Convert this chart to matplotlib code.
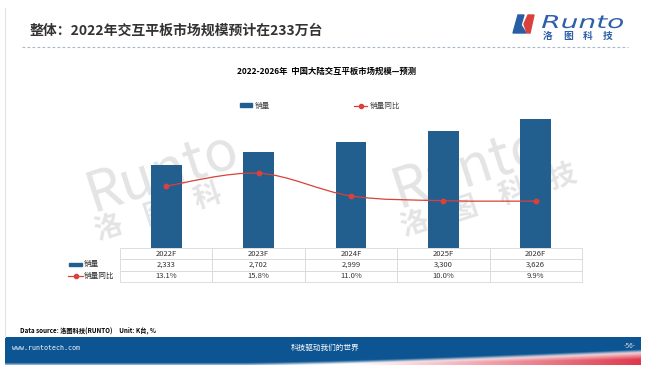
import numpy as np
import matplotlib
matplotlib.use("Agg")
import matplotlib.pyplot as plt
from matplotlib.path import Path
from matplotlib.patches import PathPatch, Rectangle, Polygon
from matplotlib.lines import Line2D
from matplotlib.textpath import TextPath
from matplotlib.font_manager import FontProperties
from matplotlib.transforms import Affine2D

plt.rcParams['font.family'] = ['Noto Sans CJK SC', 'DejaVu Sans']

# ---- data ----
years = ['2022F', '2023F', '2024F', '2025F', '2026F']
sales = [2333, 2702, 2999, 3300, 3626]          # K台
yoy = [13.1, 15.8, 11.0, 10.0, 9.9]             # %

title = '整体：2022年交互平板市场规模预计在233万台'
chart_title = '2022-2026年  中国大陆交互平板市场规模—预测'
lab_sales = '销量'
lab_yoy = '销量同比'

BLUE = '#225f8f'
RED = '#d9413a'
WM = '#e4e4e4'

W, H = 649, 377
fig = plt.figure(figsize=(W / 100, H / 100), dpi=100)


def fx(x):
    return x / W


def fy(y):
    return 1 - y / H


# ---- slide decoration ----
fig.add_artist(Line2D([fx(5), fx(5)], [fy(8), fy(337)], color='#e3e3e3', lw=0.8))
fig.text(fx(30), fy(31), title, fontsize=10, fontweight='bold', color='#333333',
         ha='left', va='center')
fig.add_artist(Line2D([fx(22), fx(628)], [fy(47), fy(47)], color='#a9b8c8', lw=0.8,
                      dashes=(2.5, 2)))

# logo icon
fig.add_artist(Polygon([(fx(513), fy(33)), (fx(518), fy(15)), (fx(524), fy(15)),
                        (fx(521), fy(25)), (fx(526), fy(33))],
                       closed=True, color='#2a5ea3'))
fig.add_artist(Polygon([(fx(524), fy(24)), (fx(528), fy(15)), (fx(534), fy(15)),
                        (fx(530), fy(33)), (fx(527), fy(33))],
                       closed=True, color='#d8423a'))
# logo word, stretched to the logo width
tp = TextPath((0, 0), 'Runto', size=1, prop=FontProperties(family='DejaVu Sans', style='italic'))
ext = tp.get_extents()
sx = 81 / ext.width
sy = 13 / 0.73
tr = Affine2D().translate(-ext.x0, 0).scale(sx / W, sy / H).translate(fx(542), fy(28)) + fig.transFigure
fig.add_artist(PathPatch(tp, transform=tr, color='#2e60a8', lw=0))
for i, ch in enumerate('洛图科技'):
    fig.text(fx(548 + i * 20), fy(36), ch, fontsize=7, fontweight='bold', color='#2e60a8',
             ha='center', va='center', style='italic')

# watermarks (behind the chart)
for x0, y0 in [(92, 212), (398, 208)]:
    fig.text(fx(x0), fy(y0), 'Runto', fontsize=40, color=WM, style='italic',
             rotation=18, rotation_mode='anchor', ha='left', va='baseline', zorder=-1)
for (cx, cy), ch in zip([(108, 228), (158, 213), (208, 197)], '洛图科'):
    fig.text(fx(cx), fy(cy), ch, fontsize=20, color=WM, fontweight='bold',
             rotation=18, ha='center', va='center', zorder=-1)
for (cx, cy), ch in zip([(414, 224), (464, 209), (513, 193), (562, 178)], '洛图科技'):
    fig.text(fx(cx), fy(cy), ch, fontsize=20, color=WM, fontweight='bold',
             rotation=18, ha='center', va='center', zorder=-1)

# ---- chart ----
fig.text(fx(327), fy(71), chart_title, fontsize=6, fontweight='bold', ha='center', va='center')

ax = fig.add_axes([fx(120), fy(248), 462 / W, 142 / H])
ax.patch.set_alpha(0)
x = np.arange(len(years))
ax.bar(x, sales, width=0.335, color=BLUE, label=lab_sales, zorder=2)
ax.set_xlim(-0.5, len(years) - 0.5)
ax.set_ylim(0, 4000)
ax.axis('off')

ax2 = ax.twinx()
ax2.set_ylim(0, 30)
ax2.axis('off')
# smooth connecting curve through the points (cubic bezier)
pts = np.column_stack([x, yoy]).astype(float)
verts = [tuple(pts[0])]
codes = [Path.MOVETO]
for i in range(len(pts) - 1):
    p0 = pts[i - 1] if i > 0 else pts[i]
    p1, p2 = pts[i], pts[i + 1]
    p3 = pts[i + 2] if i + 2 < len(pts) else pts[i + 1]
    c1 = p1 + (p2 - p0) / 6
    c2 = p2 - (p3 - p1) / 6
    verts += [tuple(c1), tuple(c2), tuple(p2)]
    codes += [Path.CURVE4] * 3
ax2.add_patch(PathPatch(Path(verts, codes), fill=False, edgecolor=RED, lw=0.9, zorder=3))
ax2.plot(x, yoy, ls='none', marker='o', ms=3.2, color=RED, zorder=4)

# legend
h1 = Rectangle((0, 0), 1, 1, color=BLUE)
h2 = Line2D([], [], color=RED, marker='o', ms=3, lw=0.9)
fig.legend([h1, h2], [lab_sales, lab_yoy], loc='center', bbox_to_anchor=(fx(320), fy(106)),
           ncol=2, frameon=False, fontsize=5.5, columnspacing=11, handlelength=1.6,
           handleheight=0.35, handletextpad=0.4, labelcolor='#444444')

# data table under the plot
cells = [years,
         [f'{v:,}' for v in sales],
         [f'{v:.1f}%' for v in yoy]]
tb = ax.table(cellText=cells, cellLoc='center', bbox=[0, -34 / 142, 1, 34 / 142])
tb.auto_set_font_size(False)
tb.set_fontsize(5.5)
for c in tb.get_celld().values():
    c.set_edgecolor('#d8d8d8')
    c.set_linewidth(0.6)
    c.get_text().set_color('#333333')
fig.add_artist(Rectangle((fx(69), fy(265.5)), 13 / W, 3 / H, color=BLUE))
fig.text(fx(84), fy(264), lab_sales, fontsize=5.5, ha='left', va='center', color='#333333')
fig.add_artist(Line2D([fx(68), fx(83)], [fy(276), fy(276)], color=RED, lw=0.9))
fig.add_artist(Line2D([fx(75.5)], [fy(276)], color=RED, marker='o', ms=3, ls='none'))
fig.text(fx(84), fy(276), lab_yoy, fontsize=5.5, ha='left', va='center', color='#333333')

# ---- footer ----
fig.text(fx(20), fy(330), 'Data source: 洛图科技(RUNTO)     Unit: K台, %', fontsize=4.5,
         fontweight='bold', ha='left', va='center')

axb = fig.add_axes([fx(5), fy(365), 636 / W, 28 / H])
axb.axis('off')
hh, ww = 56, 1272
tt = np.linspace(0, 1, ww)[None, :]
yy = np.linspace(1, 0, hh)[:, None]
top = np.where(tt > 0.38, 0.48 * np.clip((tt - 0.38) / 0.62, 0, 1) ** 1.3, 0.0) + 0.04
d = top - yy
wmix = np.clip(d / 0.12 + 0.3, 0, 1)
redness = np.clip((tt - 0.55) / 0.45, 0, 1) * np.clip(d / top * 1.6, 0, 1)
bcol = np.array([13, 85, 146]) / 255
white = np.array([1.0, 1.0, 1.0])
redc = np.array([0.87, 0.22, 0.30])
img = bcol * (1 - wmix[..., None]) + wmix[..., None] * (white * (1 - redness[..., None]) + redc * redness[..., None])
axb.imshow(img, aspect='auto', extent=[0, 1, 0, 1], interpolation='bilinear')
axb.set_xlim(0, 1)
axb.set_ylim(0, 1)

fig.text(fx(12), fy(348), 'www.runtotech.com', fontsize=4.8, color='white', ha='left',
         va='center', family='DejaVu Sans Mono')
fig.text(fx(325), fy(348), '科技驱动我们的世界', fontsize=5.5, color='white', ha='center', va='center')
fig.text(fx(630), fy(346), '-56-', fontsize=4.8, color='#dddddd', ha='center', va='center')

fig.savefig('out.png', dpi=100)
